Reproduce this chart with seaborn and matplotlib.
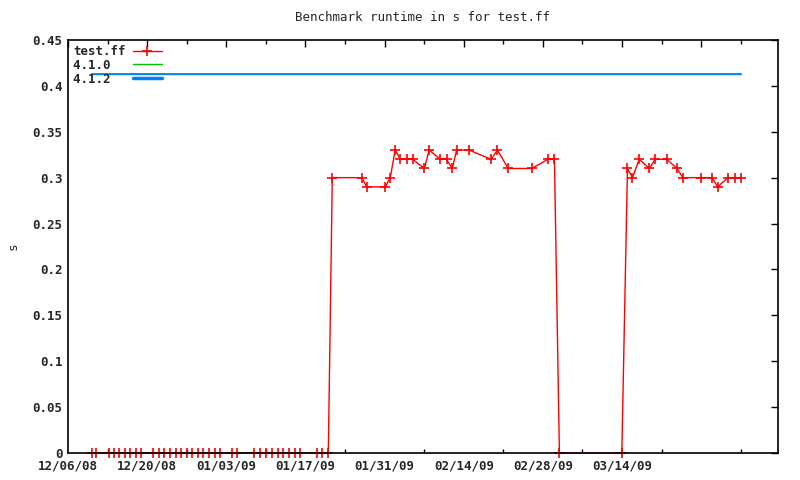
import pandas as pd
import numpy as np
import seaborn as sns
import matplotlib.pyplot as plt
from matplotlib.ticker import MultipleLocator, FuncFormatter

sns.set_style('white')
plt.rcParams['font.family'] = ['DejaVu Sans Mono']
plt.rcParams['font.weight'] = 'bold'

# test.ff runtimes (s)
test_dates = [
    '2008-12-10 04:00', '2008-12-10 21:00', '2008-12-13 05:00', '2008-12-14 02:00',
    '2008-12-15 01:00', '2008-12-16 01:00', '2008-12-17 01:00', '2008-12-18 00:00',
    '2008-12-19 00:00', '2008-12-21 01:00', '2008-12-22 02:00', '2008-12-23 00:00',
    '2008-12-24 00:00', '2008-12-25 01:00', '2008-12-26 00:00', '2008-12-27 00:00',
    '2008-12-27 23:00', '2008-12-28 23:00', '2008-12-29 22:00', '2008-12-30 23:00',
    '2008-12-31 23:00', '2009-01-01 23:00', '2009-01-04 00:00', '2009-01-04 22:00',
    '2009-01-07 22:00', '2009-01-09 00:00', '2009-01-10 01:00', '2009-01-11 02:00',
    '2009-01-12 02:00', '2009-01-13 02:00', '2009-01-14 02:00', '2009-01-15 02:00',
    '2009-01-16 01:00', '2009-01-18 23:00', '2009-01-19 23:00', '2009-01-21 01:00',
    '2009-01-21 18:00', '2009-01-26 23:00', '2009-01-27 20:00', '2009-01-31 03:00',
    '2009-02-01 00:00', '2009-02-01 21:00', '2009-02-02 19:00', '2009-02-04 00:00',
    '2009-02-04 23:00', '2009-02-07 01:00', '2009-02-07 21:00', '2009-02-09 21:00',
    '2009-02-10 23:00', '2009-02-11 23:00', '2009-02-12 18:00', '2009-02-14 23:00',
    '2009-02-18 20:00', '2009-02-19 23:00', '2009-02-21 21:00', '2009-02-26 01:00',
    '2009-02-28 21:00', '2009-03-02 01:00', '2009-03-02 22:00', '2009-03-13 23:00',
    '2009-03-14 23:00', '2009-03-15 20:00', '2009-03-17 01:00', '2009-03-18 20:00',
    '2009-03-19 21:00', '2009-03-21 22:00', '2009-03-23 17:00', '2009-03-24 18:00',
    '2009-03-27 23:00', '2009-03-29 22:00', '2009-03-30 22:00', '2009-04-01 18:00',
    '2009-04-02 22:00', '2009-04-04 02:00',
]
test_values = [0.0] * 36 + [
    0.30, 0.30, 0.29, 0.29, 0.30, 0.33, 0.32, 0.32, 0.32, 0.31, 0.33, 0.32,
    0.32, 0.31, 0.33, 0.33, 0.32, 0.33, 0.31, 0.31, 0.32, 0.32, 0.0, 0.0,
    0.31, 0.30, 0.32, 0.31, 0.32, 0.32, 0.31, 0.30, 0.30, 0.30, 0.29, 0.30,
    0.30, 0.30,
]
ref_dates = ['2008-12-10 04:00', '2009-04-04 02:00']
v410_values = [0.413, 0.413]
v412_values = [0.413, 0.413]

tick_dates = pd.date_range('2008-12-06', '2009-04-10', freq='14D')
tick_labels = ['12/06/08', '12/20/08', '01/03/09', '01/17/09', '01/31/09',
               '02/14/09', '02/28/09', '03/14/09', '']
minor_dates = pd.date_range('2008-12-13', '2009-04-10', freq='14D')

df = pd.DataFrame({'date': pd.to_datetime(test_dates), 's': test_values})
ref = pd.DataFrame({'date': pd.to_datetime(ref_dates), 'v410': v410_values, 'v412': v412_values})

fig = plt.figure(figsize=(8, 4.8), dpi=100)
ax = fig.add_axes([0.085, 0.0563, 0.8875, 0.8604])

sns.lineplot(data=df, x='date', y='s', ax=ax, color='red', lw=1, marker='+',
             markersize=7.5, markeredgewidth=1.2, markeredgecolor='red',
             clip_on=False, zorder=1.5, label='test.ff')
sns.lineplot(data=ref, x='date', y='v410', ax=ax, color='#00c000', lw=1, zorder=1.5, label='4.1.0  ')
sns.lineplot(data=ref, x='date', y='v412', ax=ax, color='#0080ff', lw=1.3, zorder=1.6, label='4.1.2  ')

ax.set_xlim(pd.Timestamp('2008-12-06'), pd.Timestamp('2009-04-10 14:00'))
ax.set_ylim(0, 0.45)
ax.yaxis.set_major_locator(MultipleLocator(0.05))
ax.yaxis.set_major_formatter(FuncFormatter(lambda v, p: '%g' % round(v, 2)))
ax.set_xticks(tick_dates)
ax.set_xticklabels(tick_labels)
ax.set_xticks(minor_dates, minor=True)

ax.tick_params(axis='both', which='major', direction='in', length=5, width=1,
               top=True, right=True, labelsize=9, color='black', pad=4)
ax.tick_params(axis='x', which='major', pad=5)
ax.tick_params(axis='x', which='minor', direction='in', length=3, width=1,
               top=True, bottom=True, color='black')
for sp in ax.spines.values():
    sp.set_color('black')
    sp.set_linewidth(1.2)
    sp.set_zorder(3)

ax.set_xlabel('')
ax.set_ylabel('s', fontsize=9, labelpad=9)
ax.set_title('Benchmark runtime in s for test.ff', fontsize=9, pad=14)

leg = ax.legend(loc='upper left', frameon=False, markerfirst=False, fontsize=9,
                handlelength=2.3, handletextpad=0.6, labelspacing=0.07,
                borderaxespad=0.3, borderpad=0.1)
leg.get_lines()[2].set_linewidth(2.5)

fig.savefig('out.png', dpi=100)
